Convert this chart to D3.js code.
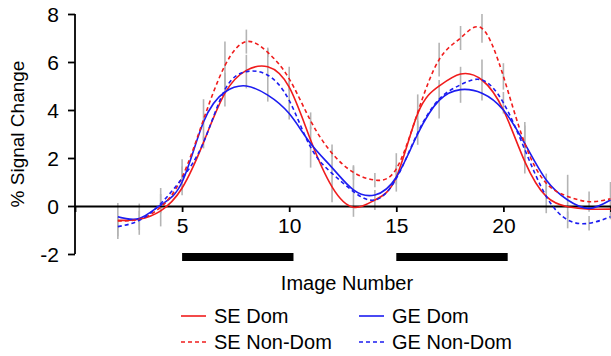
<html>
<head>
<meta charset="utf-8">
<style>
  body { margin: 0; background: #fff; }
  text { font-family: "Liberation Sans", Arial, sans-serif; fill: #000; }
</style>
</head>
<body>
<div id="chart"></div>
<script src="https://cdn.jsdelivr.net/npm/d3@7"></script>
<script>
// image numbers where a value was measured
var images = [2, 3, 4, 5, 6, 7, 8, 9, 10, 11, 12, 13, 14, 15, 16, 17, 18, 19, 20, 21, 22, 23, 24, 25];

var seDom    = [-0.6, -0.55, -0.2, 0.75, 2.65, 4.7, 5.65, 5.8, 4.95, 2.75, 0.8, -0.05, 0.25, 1.2, 3.85, 5.0, 5.5, 5.25, 4.0, 1.85, 0.4, -0.03, -0.13, -0.13];
var seNonDom = [-0.62, -0.55, -0.05, 1.2, 3.6, 5.85, 6.85, 6.4, 5.3, 3.55, 2.2, 1.4, 1.08, 1.55, 3.9, 6.1, 7.0, 7.4, 5.4, 2.6, 0.95, 0.4, 0.18, 0.3];
var geDom    = [-0.45, -0.52, 0.04, 1.0, 3.5, 4.75, 5.0, 4.62, 3.85, 2.6, 1.6, 0.67, 0.46, 1.2, 3.0, 4.4, 4.85, 4.7, 4.0, 2.6, 1.08, 0.25, -0.1, 0.25];
var geNonDom = [-0.86, -0.6, 0.1, 1.15, 2.65, 4.85, 5.6, 5.45, 4.4, 2.45, 1.36, 0.6, 0.25, 1.15, 3.05, 4.45, 5.05, 5.25, 4.3, 2.35, 0.4, -0.58, -0.72, -0.45];

// error bar half lengths (non-dominant series)
var seNonDomErr = [0.75, 0.65, 0.8, 0.75, 0.85, 1.0, 0.5, 0.2, 0.5, 0.35, 0.15, 0.3, 0.3, 0.65, 0.75, 0.7, 0.5, 0.6, 0.55, 0.9, 0.4, 0.9, 0.42, 0.7];
var geNonDomErr = [0.4, 0.4, 0.4, 0.5, 0.25, 0.7, 0.7, 1.1, 0.8, 0.85, 1.2, 1.05, 0.42, 0.55, 0.5, 0.8, 0.75, 0.85, 0.45, 1.0, 0.7, 0.35, 0.3, 0.1];

// stimulus blocks [start, end] in image numbers
var blocks = [[5, 10.2], [15, 20.2]];

var xTicks = [5, 10, 15, 20];
var yTicks = [-2, 0, 2, 4, 6, 8];

var w = 611, h = 356;

var x = d3.scaleLinear().domain([0, 25]).range([75, 610.5]);
var y = d3.scaleLinear().domain([-2, 8]).range([254, 14]);

var svg = d3.select("#chart").append("svg")
  .attr("width", w)
  .attr("height", h);

// error bars first so the curves sit on top
var errSets = [[seNonDom, seNonDomErr], [geNonDom, geNonDomErr]];
errSets.forEach(function(s) {
  svg.append("g").selectAll("line")
    .data(images)
    .enter().append("line")
      .attr("x1", function(d) { return x(d); })
      .attr("x2", function(d) { return x(d); })
      .attr("y1", function(d, i) { return y(s[0][i] + s[1][i]); })
      .attr("y2", function(d, i) { return y(s[0][i] - s[1][i]); })
      .attr("stroke", "#b4b4b4")
      .attr("stroke-width", 1.6);
});

// axes
var yAxis = svg.append("g")
  .attr("transform", "translate(" + x(0) + ",0)")
  .call(d3.axisLeft(y).tickValues(yTicks).tickSize(7).tickPadding(9)
    .tickFormat(function(d) { return String(d); }));
yAxis.select(".domain").attr("d", "M0," + y(-2) + "V" + y(8));

var xAxis = svg.append("g")
  .attr("transform", "translate(0," + y(0) + ")")
  .call(d3.axisBottom(x).tickValues(xTicks).tickSize(6).tickPadding(6));

svg.selectAll(".domain, .tick line").attr("stroke", "#000").attr("stroke-width", 1.8);
svg.selectAll(".tick text").style("font-size", "21px").attr("fill", "#000");
yAxis.selectAll(".tick text").attr("dy", "0.36em");

// curves
var series = [
  { name: "SE Dom", values: seDom, color: "#f01c1c", dash: null },
  { name: "GE Dom", values: geDom, color: "#1c1cf0", dash: null },
  { name: "SE Non-Dom", values: seNonDom, color: "#f01c1c", dash: "4,3" },
  { name: "GE Non-Dom", values: geNonDom, color: "#1c1cf0", dash: "4,3" }
];

var line = d3.line()
  .x(function(d) { return x(d[0]); })
  .y(function(d) { return y(d[1]); })
  .curve(d3.curveNatural);

series.forEach(function(s) {
  svg.append("path")
    .datum(images.map(function(im, i) { return [im, s.values[i]]; }))
    .attr("d", line)
    .attr("fill", "none")
    .attr("stroke", s.color)
    .attr("stroke-width", 1.6)
    .attr("stroke-dasharray", s.dash);
});

// stimulus blocks
svg.append("g").selectAll("rect")
  .data(blocks)
  .enter().append("rect")
    .attr("x", function(d) { return x(d[0]); })
    .attr("width", function(d) { return x(d[1]) - x(d[0]); })
    .attr("y", 253)
    .attr("height", 8)
    .attr("fill", "#000");

// axis titles
svg.append("text")
  .attr("x", 347).attr("y", 290)
  .attr("text-anchor", "middle")
  .style("font-size", "20px")
  .text("Image Number");

svg.append("text")
  .attr("transform", "translate(24," + y(3) + ") rotate(-90)")
  .attr("text-anchor", "middle")
  .style("font-size", "19px")
  .text("% Signal Change");

// legend
var legendPos = [
  { name: "SE Dom", lx: 181, ly: 316 },
  { name: "GE Dom", lx: 359, ly: 316 },
  { name: "SE Non-Dom", lx: 181, ly: 342 },
  { name: "GE Non-Dom", lx: 359, ly: 342 }
];
var legend = svg.append("g").selectAll("g")
  .data(legendPos)
  .enter().append("g")
    .attr("transform", function(d) { return "translate(" + d.lx + "," + d.ly + ")"; });

legend.append("line")
  .attr("x1", 0).attr("x2", 25)
  .attr("stroke", function(d) { return series.find(function(s) { return s.name === d.name; }).color; })
  .attr("stroke-width", 1.6)
  .attr("stroke-dasharray", function(d) { return series.find(function(s) { return s.name === d.name; }).dash; });

legend.append("text")
  .attr("x", 33).attr("dy", "0.35em")
  .style("font-size", "20px")
  .text(function(d) { return d.name; });
</script>
</body>
</html>
